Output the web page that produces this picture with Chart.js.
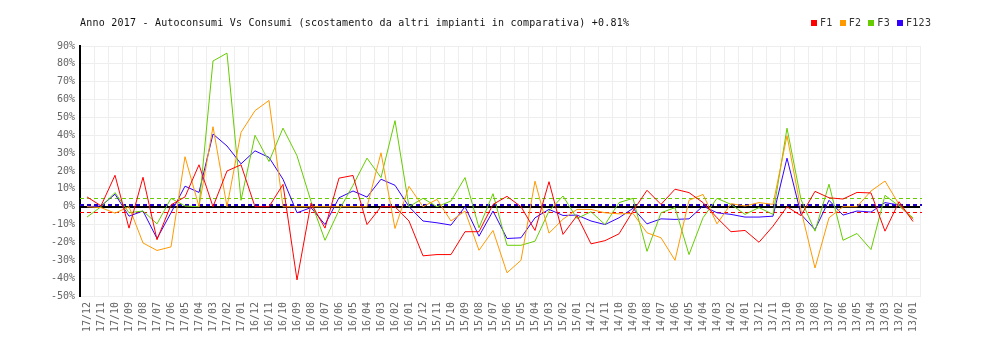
<!DOCTYPE html>
<html>
<head>
<meta charset="utf-8">
<script src="https://cdn.jsdelivr.net/npm/chart.js@4/dist/chart.umd.min.js"></script>
<style>
  html, body { margin: 0; padding: 0; background: #fff; }
  #wrap { position: relative; width: 1000px; height: 340px; }
  #chart { position: absolute; left: 0; top: 0; }
  #title {
    position: absolute; left: 80px; top: 17px; line-height: 12px;
    font: 10px "DejaVu Sans Mono", monospace; letter-spacing: 0.22px;
    color: #111; white-space: pre;
  }
  #legend {
    position: absolute; left: 811px; top: 17px; line-height: 12px;
    font: 10px "DejaVu Sans Mono", monospace; letter-spacing: 0.3px;
    color: #333; white-space: pre; display: flex; align-items: center;
  }
  #legend .sw { display: inline-block; width: 6px; height: 6px; margin-right: 3px; }
  #legend .it { margin-right: 7px; }
</style>
</head>
<body>
<div id="wrap">
  <canvas id="chart" width="1000" height="340"></canvas>
  <div id="title"></div>
  <div id="legend"></div>
</div>
<script>
// Month labels (yy/mm), newest first
const months = [
  '17/12','17/11','17/10','17/09','17/08','17/07','17/06','17/05','17/04','17/03','17/02','17/01',
  '16/12','16/11','16/10','16/09','16/08','16/07','16/06','16/05','16/04','16/03','16/02','16/01',
  '15/12','15/11','15/10','15/09','15/08','15/07','15/06','15/05','15/04','15/03','15/02','15/01',
  '14/12','14/11','14/10','14/09','14/08','14/07','14/06','14/05','14/04','14/03','14/02','14/01',
  '13/12','13/11','13/10','13/09','13/08','13/07','13/06','13/05','13/04','13/03','13/02','13/01'
];

// Percentage deviation per band
const f1 = [
  5.5, 0.5, 17.6, -12, 16.5, -18.5, 1, 5.5, 23.5, 0, 20, 23.5,
  0, 0, 12.5, -41, 2, -12, 16, 17.5, -10, 0, 0, -8,
  -27.5, -26.8, -26.8, -14, -14, 1.3, 5.8, 0, -13.3, 14, -15.5, -5,
  -20.8, -19, -15.2, -2.4, 9.2, 1.3, 9.8, 7.9, 2.3, -6.2, -14, -13.3,
  -19.9, -10.9, 0, -5, 8.6, 5, 4.3, 8, 7.7, -13.7, 2.8, -8.3
];
const f2 = [
  0, -0.5, -3.6, 0, -20.3, -24.5, -22.5, 28, 0, 44.8, 0, 41.6,
  53.8, 59.5, 0, 0, 0, 0, 0, 0, 0, 30.2, -12.2, 11.4,
  0, 4.1, -8, -2.4, -24.4, -13.3, -37, -30, 14.3, -14.8, -7, -1.5,
  -1.5, -3.4, -4, -3.8, -14.6, -17.4, -30, 3.6, 6.9, -9.6, 1.7, 0.4,
  2.3, 1.3, 39.8, -2, -34.3, -6.2, 0, 0, 8.8, 14.4, 1.3, -7
];
const f3 = [
  -5.8, 0, 7.9, -3.4, -2.4, -9.6, 4.7, 0.4, 0, 81.6, 86, 3.6,
  40, 25.3, 44, 28.5, 3, -18.8, -2, 12, 27.2, 16.3, 48.2, 0,
  4.7, 0, 3.2, 16.3, -11.8, 7.3, -21.6, -21.6, -19.3, -2.4, 6, -6.6,
  -2.8, -10, 2.3, 4.7, -25, -3.4, -0.5, -26.8, -6.2, 4.7, 1.3, -4.3,
  -0.5, -4.3, 44, 4, -13.7, 12.6, -18.8, -15, -24, 6.4, 0.4, -6.2
];
const f123 = [
  0, 0.4, 7, -5.3, -2.4, -17.8, -3.4, 11.5, 8, 40.7, 34, 24,
  31.3, 27.6, 15.4, -3.4, -0.5, -10, 5, 8.8, 5.4, 15.4, 12, 0,
  -8, -9, -10.3, 0, -16.5, -2.4, -17.8, -17.4, -6.2, -1.5, -4.9, -4.7,
  -8, -10, -6.2, -0.9, -9.6, -6.8, -7.1, -6.8, 0.4, -3.4, -4.3, -5.8,
  -5.8, -5.3, 27.2, -4.3, -12.8, 3.6, -4.7, -2.4, -3, 2.3, 0.9, -7
];

// Average reference levels (dashed)
const avgF1 = -3;
const avgF3 = 5;
const avgF123 = 0.81;

const titleText = 'Anno 2017 - Autoconsumi Vs Consumi (scostamento da altri impianti in comparativa) +0.81%';

const series = [
  { name: 'F1',   data: f1,   color: '#ff0000' },
  { name: 'F2',   data: f2,   color: '#ff9900' },
  { name: 'F3',   data: f3,   color: '#66cc00' },
  { name: 'F123', data: f123, color: '#3300ff' }
];

const averages = [
  { value: avgF3,   color: '#66cc00', width: 1 },
  { value: avgF1,   color: '#ff0000', width: 1 },
  { value: avgF123, color: '#2200cc', width: 2 }
];

document.getElementById('title').textContent = titleText;
const legendEl = document.getElementById('legend');
series.forEach(s => {
  const sw = document.createElement('span');
  sw.className = 'sw';
  sw.style.background = s.color;
  const tx = document.createElement('span');
  tx.className = 'it';
  tx.textContent = s.name;
  legendEl.appendChild(sw);
  legendEl.appendChild(tx);
});

// Dashed average levels across the plot area
const avgLines = {
  id: 'avgLines',
  beforeDatasetsDraw(chart) {
    const { ctx, chartArea, scales } = chart;
    ctx.save();
    averages.forEach(a => {
      const y = Math.round(scales.y.getPixelForValue(a.value)) + (a.width % 2 ? 0.5 : 0);
      ctx.beginPath();
      ctx.setLineDash([4, 3]);
      ctx.lineWidth = a.width;
      ctx.strokeStyle = a.color;
      ctx.moveTo(chartArea.left, y);
      ctx.lineTo(chartArea.right + 2, y);
      ctx.stroke();
    });
    ctx.restore();
  }
};

const tickFont = { family: '"DejaVu Sans Mono", monospace', size: 10 };

new Chart(document.getElementById('chart'), {
  type: 'line',
  data: {
    labels: months,
    datasets: series.map(s => ({
      label: s.name,
      data: s.data,
      borderColor: s.color,
      backgroundColor: s.color,
      borderWidth: 1,
      pointRadius: 0,
      tension: 0,
      fill: false
    }))
  },
  options: {
    responsive: false,
    animation: false,
    layout: { padding: { left: 0, right: 80, top: 46, bottom: 0 } },
    plugins: {
      legend: { display: false },
      title: { display: false },
      tooltip: { enabled: false }
    },
    scales: {
      x: {
        offset: true,
        grid: { offset: true, color: '#eeeeee', lineWidth: 1, drawTicks: false },
        border: { color: '#eeeeee' },
        ticks: {
          autoSkip: false, minRotation: 90, maxRotation: 90,
          padding: 6, color: '#666666', font: tickFont
        },
        afterFit(scale) { scale.height = 44; }
      },
      y: {
        min: -50, max: 90,
        ticks: {
          stepSize: 10, padding: 5, color: '#666666', font: tickFont,
          callback: v => v + '%'
        },
        grid: {
          color: c => (c.tick && c.tick.value === 0) ? '#000000' : '#eeeeee',
          lineWidth: c => (c.tick && c.tick.value === 0) ? 2 : 1,
          drawTicks: false
        },
        border: { color: '#000000', width: 2 },
        afterFit(scale) { scale.width = 80; }
      }
    }
  },
  plugins: [avgLines]
});
</script>
</body>
</html>
